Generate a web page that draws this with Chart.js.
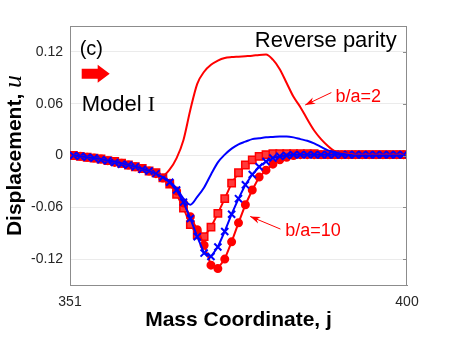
<!DOCTYPE html>
<html><head><meta charset="utf-8">
<script src="https://cdn.jsdelivr.net/npm/chart.js@4.4.1/dist/chart.umd.min.js"></script>
<style>html,body{margin:0;padding:0;background:#fff}#wrap{width:450px;height:338px}</style>
</head><body><div id="wrap"><canvas id="c" width="450" height="338"></canvas></div>
<script>
// ---- data ----
const massJ = [351.5,352.5,353.5,354.5,355.5,356.5,357.5,358.5,359.5,360.5,361.5,362.5,363.5,364.5,365.5,366.5,367.5,368.5,369.5,370.5,371.5,372.5,373.5,374.5,375.5,376.5,377.5,378.5,379.5,380.5,381.5,382.5,383.5,384.5,385.5,386.5,387.5,388.5,389.5,390.5,391.5,392.5,393.5,394.5,395.5,396.5,397.5,398.5,399.5];
const redLineRatio2 = [0.000,-0.001,-0.002,-0.003,-0.004,-0.006,-0.007,-0.009,-0.011,-0.013,-0.015,-0.018,-0.021,-0.023,-0.016,-0.003,0.018,0.053,0.083,0.097,0.105,0.110,0.113,0.114,0.1145,0.115,0.1155,0.1165,0.117,0.111,0.100,0.084,0.068,0.056,0.042,0.029,0.019,0.011,0.005,0.003,0.002,0.001,0.001,0.001,0.001,0.001,0.001,0.001,0.001];
const blueLine = [0.000,-0.001,-0.002,-0.003,-0.004,-0.006,-0.007,-0.009,-0.011,-0.013,-0.015,-0.018,-0.021,-0.025,-0.030,-0.038,-0.050,-0.057,-0.048,-0.037,-0.022,-0.008,0.001,0.008,0.013,0.016,0.019,0.020,0.021,0.0215,0.022,0.022,0.021,0.019,0.017,0.014,0.010,0.006,0.004,0.002,0.001,0,0,0,0,0,0,0,0];
const redSquares = [0.000,-0.001,-0.002,-0.003,-0.004,-0.006,-0.007,-0.009,-0.011,-0.013,-0.015,-0.018,-0.020,-0.026,-0.033,-0.045,-0.061,-0.080,-0.092,-0.094,-0.083,-0.067,-0.050,-0.032,-0.020,-0.011,-0.005,-0.001,0.001,0.002,0.002,0.002,0.002,0.002,0.002,0.002,0.001,0.001,0.001,0.001,0.001,0.001,0.001,0.001,0.001,0.001,0.001,0.001,0.001];
const blueCrosses = [0.000,-0.001,-0.002,-0.003,-0.005,-0.006,-0.008,-0.010,-0.011,-0.013,-0.016,-0.018,-0.021,-0.025,-0.031,-0.040,-0.054,-0.073,-0.094,-0.113,-0.117,-0.106,-0.088,-0.068,-0.050,-0.034,-0.022,-0.013,-0.007,-0.003,-0.001,0.000,0.001,0.001,0.001,0.001,0.001,0.001,0.001,0.001,0.001,0.001,0.001,0.001,0.001,0.001,0.001,0.001,0.001];
const redCircles = [0.000,-0.001,-0.002,-0.003,-0.004,-0.006,-0.008,-0.009,-0.011,-0.013,-0.015,-0.018,-0.021,-0.026,-0.032,-0.041,-0.055,-0.071,-0.086,-0.104,-0.127,-0.131,-0.120,-0.100,-0.078,-0.057,-0.040,-0.025,-0.017,-0.010,-0.005,-0.002,0.000,0.001,0.001,0.001,0.001,0.001,0.001,0.001,0.001,0.001,0.001,0.001,0.001,0.001,0.001,0.001,0.001];
const yTicks = [-0.12,-0.06,0,0.06,0.12];
const yTickLabels = ['-0.12','-0.06','0','0.06','0.12'];
const xTicks = [351,400];
const xTickLabels = ['351','400'];

const pts = arr => arr.map((v,i)=>({x:massJ[i], y:v}));
const RED = '#ff0000', BLUE = '#0000ff', AXIS = '#8c8c8c', TXT = '#262626';
const SANS = '"Liberation Sans", Arial, sans-serif';
const SERIF = '"Liberation Serif", "Times New Roman", serif';

function arrowTo(ctx, x1,y1,x2,y2,color){
  ctx.strokeStyle=color; ctx.fillStyle=color; ctx.lineWidth=1;
  ctx.beginPath(); ctx.moveTo(x1,y1); ctx.lineTo(x2,y2); ctx.stroke();
  const ang=Math.atan2(y2-y1,x2-x1), L=10, W=3.5;
  const bx=x2-L*Math.cos(ang), by=y2-L*Math.sin(ang);
  const nx=-Math.sin(ang), ny=Math.cos(ang);
  const mx=x2-0.7*L*Math.cos(ang), my=y2-0.7*L*Math.sin(ang);
  ctx.beginPath(); ctx.moveTo(x2,y2); ctx.lineTo(bx+nx*W,by+ny*W); ctx.lineTo(mx,my); ctx.lineTo(bx-nx*W,by-ny*W); ctx.closePath(); ctx.fill();
}

const annot = {
  id:'annot',
  afterDraw(chart){
    const {ctx, chartArea:a, scales:{x,y}} = chart;
    const X=v=>x.getPixelForValue(v), Y=v=>y.getPixelForValue(v);
    ctx.save();
    // top & right box edges + right inner ticks
    ctx.strokeStyle=AXIS; ctx.lineWidth=1;
    ctx.beginPath();
    ctx.moveTo(a.left, Math.round(a.top)+0.5); ctx.lineTo(a.right, Math.round(a.top)+0.5);
    ctx.moveTo(Math.round(a.right)-0.5, a.top); ctx.lineTo(Math.round(a.right)-0.5, a.bottom);
    yTicks.forEach(v=>{const p=Math.round(Y(v))+0.5; ctx.moveTo(a.right,p); ctx.lineTo(a.right-4,p);});
    ctx.stroke();
    // texts
    ctx.fillStyle='#000'; ctx.textBaseline='alphabetic'; ctx.textAlign='left';
    ctx.font='20px '+SANS; ctx.fillText('(c)', X(352.4), Y(0.1166));
    ctx.font='22px '+SANS; ctx.textAlign='right'; ctx.fillText('Reverse parity', X(398.5), Y(0.1259));
    ctx.textAlign='left';
    ctx.font='22px '+SANS; const mx=X(352.7), my=Y(0.052);
    ctx.fillText('Model ', mx, my); const w=ctx.measureText('Model ').width;
    ctx.font='22px '+SERIF; ctx.fillText('I', mx+w, my);
    // block arrow
    const ax=X(352.7), ay=Y(0.0946);
    ctx.fillStyle=RED; ctx.beginPath();
    ctx.moveTo(ax,ay-5); ctx.lineTo(ax+16,ay-5); ctx.lineTo(ax+16,ay-9); ctx.lineTo(ax+28,ay);
    ctx.lineTo(ax+16,ay+9); ctx.lineTo(ax+16,ay+5); ctx.lineTo(ax,ay+5); ctx.closePath(); ctx.fill();
    // ratio labels
    ctx.font='18px '+SANS; ctx.fillStyle=RED;
    ctx.fillText('b/a=2', X(389.6), Y(0.062));
    ctx.fillText('b/a=10', X(382.3), Y(-0.093));
    arrowTo(ctx, X(389.0),Y(0.0729), X(385.2),Y(0.0585), RED);
    arrowTo(ctx, X(381.6),Y(-0.0852), X(377.2),Y(-0.0706), RED);
    // axis titles
    ctx.fillStyle='#000';
    ctx.font='bold 21px '+SANS; ctx.textAlign='center';
    ctx.fillText('Mass Coordinate, j', (a.left+a.right)/2, 326);
    ctx.save();
    ctx.translate(21, (a.top+a.bottom)/2); ctx.rotate(-Math.PI/2);
    ctx.font='bold 21px '+SANS; const t1='Displacement, '; const w1=ctx.measureText(t1).width;
    ctx.font='italic 26px '+SERIF; const w2=ctx.measureText('u').width;
    const sx=-(w1+w2)/2; ctx.textAlign='left';
    ctx.font='bold 21px '+SANS; ctx.fillText(t1, sx, 0);
    ctx.font='italic 26px '+SERIF; ctx.fillText('u', sx+w1, 0);
    ctx.restore();
    ctx.restore();
  }
};

new Chart(document.getElementById('c'), {
  type:'line',
  data:{datasets:[
    {label:'thin blue', data:pts(blueLine), borderColor:BLUE, borderWidth:2, pointRadius:0, cubicInterpolationMode:'monotone'},
    {label:'b/a=2', data:pts(redLineRatio2), borderColor:RED, borderWidth:2, pointRadius:0, cubicInterpolationMode:'monotone'},
    {label:'blue x', data:pts(blueCrosses), borderColor:BLUE, backgroundColor:BLUE, borderWidth:2, pointStyle:'crossRot', pointRadius:5, pointBorderWidth:2},
    {label:'b/a=10', data:pts(redCircles), borderColor:RED, backgroundColor:RED, borderWidth:2, pointStyle:'circle', pointRadius:3.5},
    {label:'red squares', data:pts(redSquares), borderColor:RED, backgroundColor:'#ff3a3a', borderWidth:2, pointStyle:'rect', pointRadius:5.2, pointBorderWidth:1.5}
  ]},
  options:{
    responsive:false, animation:false, devicePixelRatio:1,
    layout:{padding:{left:0,right:43,top:26,bottom:0}},
    plugins:{legend:{display:false}, tooltip:{enabled:false}},
    elements:{line:{tension:0}},
    scales:{
      x:{type:'linear', min:351, max:400,
        afterBuildTicks:s=>{s.ticks=xTicks.map(v=>({value:v}));},
        afterFit:s=>{s.height=53;},
        grid:{display:false, drawTicks:false},
        border:{display:true,color:AXIS,width:1},
        ticks:{autoSkip:false,maxRotation:0,padding:9,color:TXT,font:{family:SANS,size:14},
          callback:(v)=>xTickLabels[xTicks.indexOf(v)]}
      },
      y:{type:'linear', min:-0.15, max:0.15,
        afterBuildTicks:s=>{s.ticks=yTicks.map(v=>({value:v}));},
        afterFit:s=>{s.width=70;},
        grid:{color:'#ebebeb', lineWidth:1, drawTicks:false},
        border:{display:true,color:AXIS,width:1},
        ticks:{padding:7,color:TXT,font:{family:SANS,size:14},
          callback:(v)=>yTickLabels[yTicks.indexOf(v)]}
      }
    }
  },
  plugins:[annot]
});
</script></body></html>
